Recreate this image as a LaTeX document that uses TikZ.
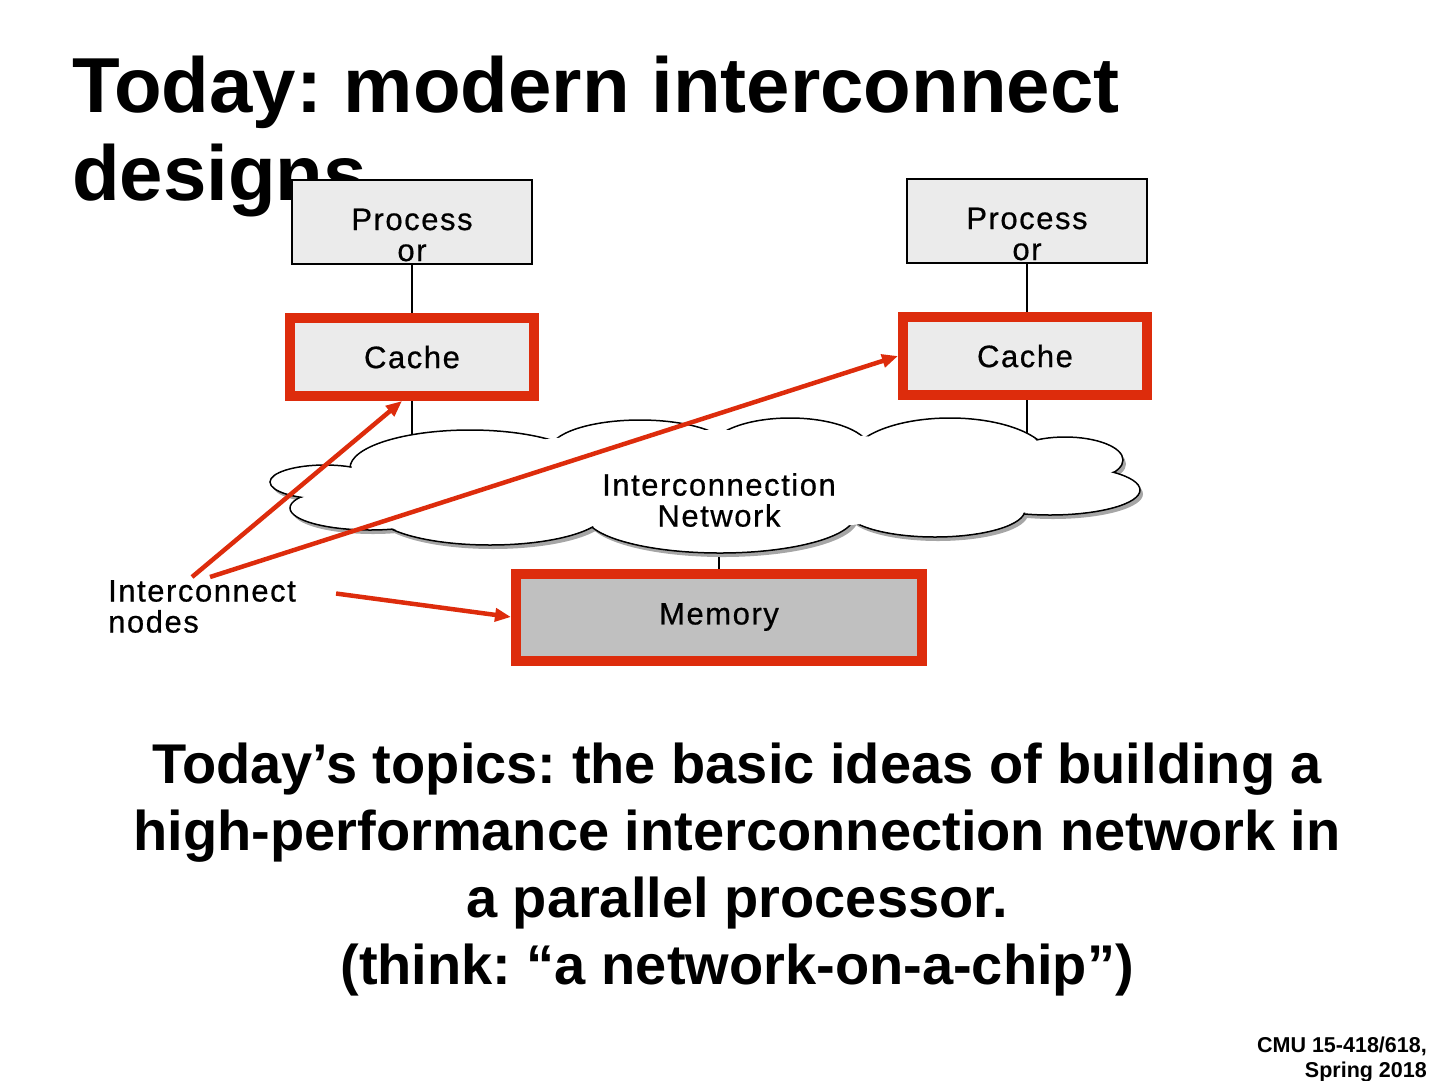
\documentclass[tikz,border=0pt]{standalone}
\usepackage{fontspec}
\setmainfont{Liberation Sans}
\newfontfamily\spacedsans[LetterSpace=5,FakeBold=0.6]{Liberation Sans}
\usetikzlibrary{arrows.meta}
\definecolor{slidered}{RGB}{221,44,12}
\definecolor{boxgray}{RGB}{235,235,235}
\definecolor{memgray}{RGB}{192,192,192}
\frenchspacing

\begin{document}
\begin{tikzpicture}[x=1pt,y=-1pt,
  box/.style={draw,fill=boxgray,line width=2pt,minimum width=240pt,minimum height=84pt,inner sep=0pt,align=center,font=\spacedsans\fontsize{31}{31}\selectfont},
  proc/.style={box,text height=78pt,text depth=0pt},
  hot/.style={box,draw=slidered,line width=10pt,minimum width=244pt,minimum height=78pt},
  pointer/.style={-{Triangle[length=16pt,width=13pt]},draw=slidered,fill=slidered,line width=4.5pt}]
\useasboundingbox (0,0) rectangle (1440,1080);

% title
\node[anchor=base west,inner sep=0pt,font=\bfseries\fontsize{78}{88}\selectfont] (title) at (72,112) {Today: modern interconnect};
\node[anchor=base west,inner sep=0pt,font=\bfseries\fontsize{78}{88}\selectfont] (title2) at (72,200) {designs};

% processors and caches
\node[proc] (procL) at (412,222) {Process\\or};
\node[proc] (procR) at (1027,221) {Process\\or};
\node[hot] (cacheL) at (412,357) {Cache};
\node[hot] (cacheR) at (1025,356) {Cache};
\node[hot,fill=memgray,minimum width=406pt,minimum height=87pt] (mem) at (719,617) {Memory};
\coordinate (netc) at (719,500);

\draw[line width=2pt] (procL) -- (cacheL);
\draw[line width=2pt] (procR) -- (cacheR.north -| procR);
\draw[line width=2pt] (cacheL.south) -- (cacheL.south |- netc);
\draw[line width=2pt] (cacheR.south -| procR) -- (procR |- netc);
\draw[line width=2pt] (netc) -- (mem.north);

% cloud
\foreach \cx/\cy/\rx/\ry in {470/468/120/38,640/450/90/30,790/450/80/32,950/460/100/42,1065/460/58/23,1050/490/90/25,935/510/90/27,720/515/135/38,490/512/115/33,370/508/80/22,325/482/55/17}
  \fill[black!35] (\cx+3,\cy+4) ellipse ({\rx} and {\ry});
\foreach \cx/\cy/\rx/\ry in {470/468/120/38,640/450/90/30,790/450/80/32,950/460/100/42,1065/460/58/23,1050/490/90/25,935/510/90/27,720/515/135/38,490/512/115/33,370/508/80/22,325/482/55/17}
  \draw[line width=1.5pt,fill=white] (\cx,\cy) ellipse ({\rx} and {\ry});
\foreach \cx/\cy/\rx/\ry in {470/468/120/38,640/450/90/30,790/450/80/32,950/460/100/42,1065/460/58/23,1050/490/90/25,935/510/90/27,720/515/135/38,490/512/115/33,370/508/80/22,325/482/55/17}
  \fill[white] (\cx,\cy) ellipse ({\rx-1.5} and {\ry-1.5});
\fill[white] (720,480) ellipse (300 and 50);
\node[align=center,inner sep=0pt,font=\spacedsans\fontsize{31}{31}\selectfont] (net) at (netc) {Interconnection\\Network};

% labels and arrows
\node[anchor=north west,align=left,inner sep=0pt,font=\spacedsans\fontsize{31}{31}\selectfont] (nodelbl) at (108,580) {Interconnect\\nodes};
\draw[pointer] ([xshift=-10pt,yshift=3pt]nodelbl.north) -- ([xshift=-10pt]cacheL.south);
\draw[pointer] ([xshift=8pt,yshift=3pt]nodelbl.north) -- (cacheR.west);
\draw[pointer] ([xshift=40pt,yshift=13pt]nodelbl.east) -- (mem.west);

% body text
\node[anchor=base,align=center,inner sep=0pt,font=\bfseries\fontsize{56}{67}\selectfont] (topics) at (737,984) {Today’s topics: the basic ideas of building a\\high-performance interconnection network in\\a parallel processor.\\(think: “a network-on-a-chip”)};

\node[anchor=base east,align=right,inner sep=0pt,font=\bfseries\fontsize{21.5}{25}\selectfont] (footer) at (1427,1077) {CMU 15-418/618,\\Spring 2018};
\end{tikzpicture}
\end{document}
